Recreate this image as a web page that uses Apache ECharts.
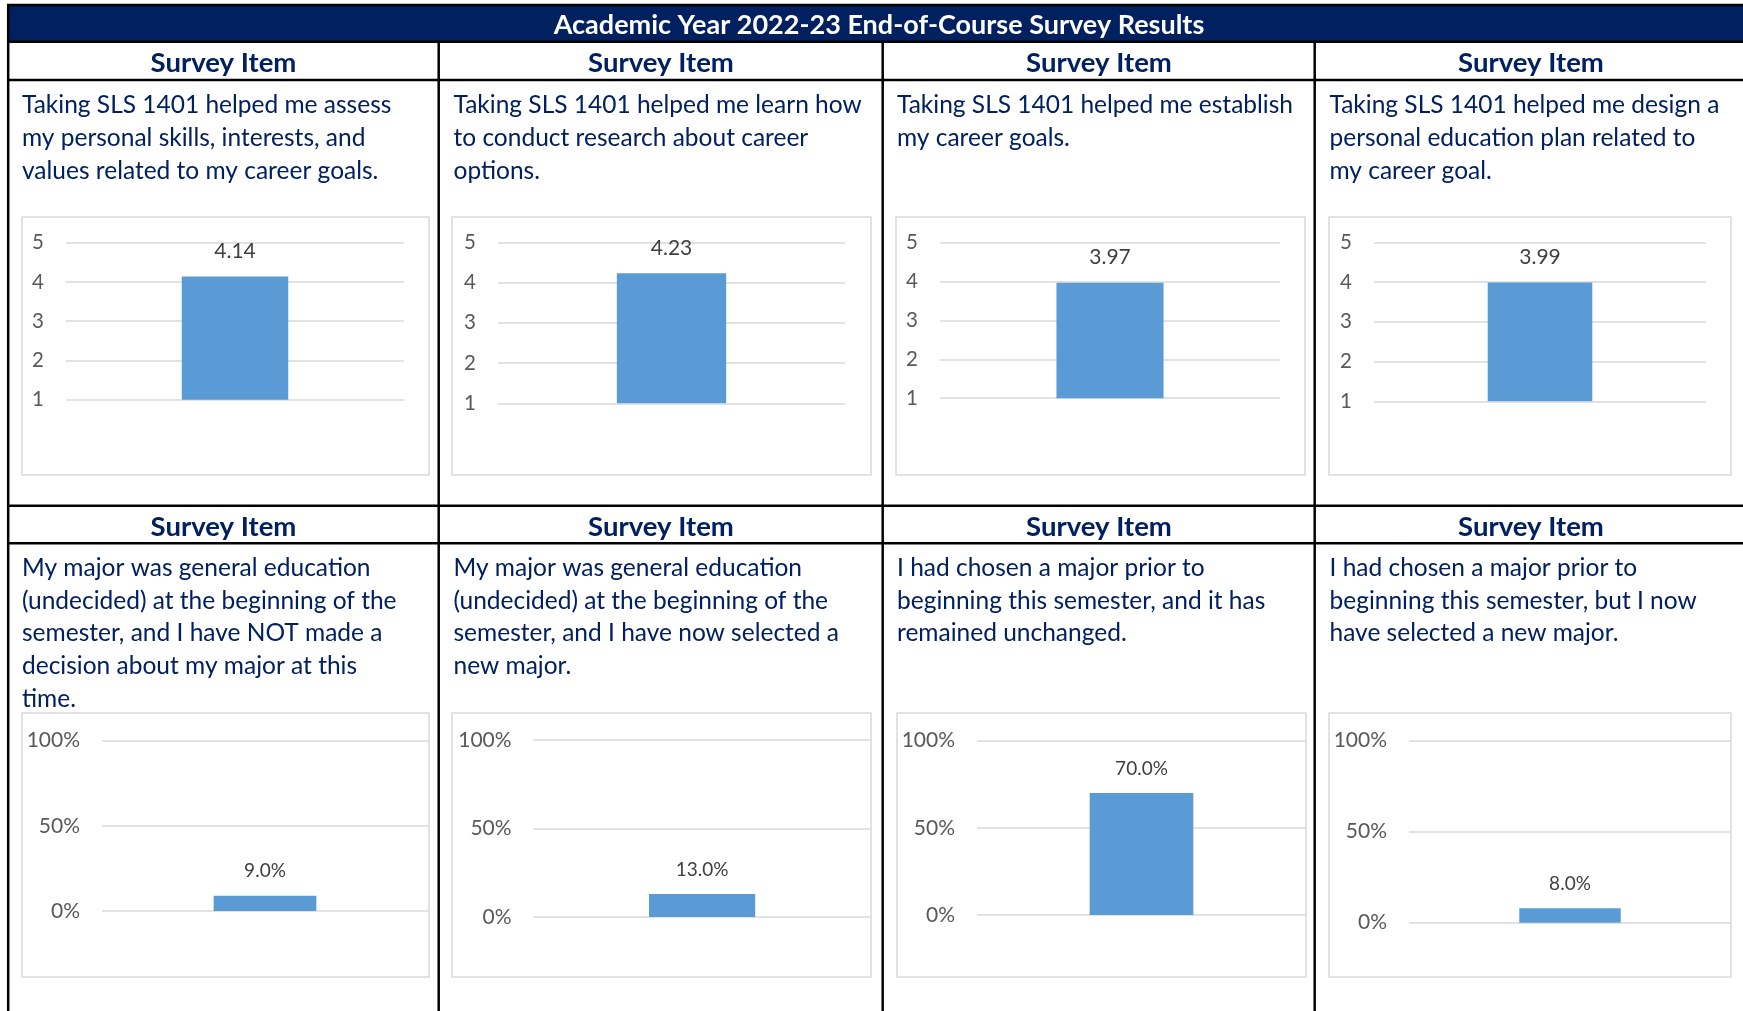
<!DOCTYPE html>
<html>
<head>
<meta charset="utf-8">
<title>Academic Year 2022-23 End-of-Course Survey Results</title>
<script src="https://cdn.jsdelivr.net/npm/echarts@6/dist/echarts.min.js"></script>
<style>
html, body { margin: 0; padding: 0; background: #fff; }
#container { width: 1743px; height: 1011px; }
</style>
</head>
<body>
<div id="container"></div>
<script>
// ---- data ----
var reportTitle = 'Academic Year 2022-23 End-of-Course Survey Results';
var headerLabel = 'Survey Item';
var categories = ['Mean'];

var scoreItems = [
	'Taking SLS 1401 helped me assess\nmy personal skills, interests, and\nvalues related to my career goals.',
	'Taking SLS 1401 helped me learn how\nto conduct research about career\noptions.',
	'Taking SLS 1401 helped me establish\nmy career goals.',
	'Taking SLS 1401 helped me design a\npersonal education plan related to\nmy career goal.'
];
var scoreValues = [4.14, 4.23, 3.97, 3.99];
var scoreTicks = [1, 2, 3, 4, 5];

var majorItems = [
	'My major was general education\n(undecided) at the beginning of the\nsemester, and I have NOT made a\ndecision about my major at this\ntime.',
	'My major was general education\n(undecided) at the beginning of the\nsemester, and I have now selected a\nnew major.',
	'I had chosen a major prior to\nbeginning this semester, and it has\nremained unchanged.',
	'I had chosen a major prior to\nbeginning this semester, but I now\nhave selected a new major.'
];
var majorShares = [9.0, 13.0, 70.0, 8.0]; // percent
var percentTicks = [0, 50, 100];

// ---- layout (page pixels) ----
var FONT = 'Lato, "Open Sans", sans-serif';
var NAVY = '#002060';
var colLines = [438.7, 882.7, 1314.7];
var colCenters = [223.5, 661, 1099, 1531];
var textLeft = [22, 453.5, 897, 1329.5];
var boxes1 = [[22, 217, 407, 258], [452, 217, 419, 258], [896, 217, 409, 258], [1329, 217, 402, 258]];
var boxes2 = [[22, 713, 407, 264], [452, 713, 419, 264], [897, 713, 409, 264], [1329, 713, 402, 264]];
var grids1 = [[66, 242.7, 338, 157], [498, 242.3, 347, 161], [940, 242.7, 340, 155.5], [1374, 242.3, 332, 159]];
var grids2 = [[102, 740.7, 326, 170.3], [533.6, 740, 337, 177], [977, 740.7, 329, 174.3], [1409, 740.7, 322, 182]];

var myChart = echarts.init(document.getElementById('container'));

function textEl(x, y, str, size, weight, color, align, lh) {
	return {
		type: 'text', silent: true, z: 10,
		style: {
			x: x, y: y, text: str,
			fontSize: size, fontWeight: weight, fontFamily: FONT,
			fill: color,
			align: align, textAlign: align,
			verticalAlign: 'top', textVerticalAlign: 'top',
			lineHeight: lh
		}
	};
}
function lineEl(x1, y1, x2, y2, w) {
	return {
		type: 'line', silent: true, z: 20,
		shape: {x1: x1, y1: y1, x2: x2, y2: y2},
		style: {stroke: '#000', lineWidth: w}
	};
}

var graphic = [];
// title band
graphic.push({type: 'rect', silent: true, z: 5, shape: {x: 8, y: 5, width: 1740, height: 36.5}, style: {fill: NAVY}});
graphic.push(textEl(879, 9, reportTitle, 27, 'bold', '#fff', 'center', 32));
// table rules
graphic.push(lineEl(7, 5, 1743, 5, 2.5));
graphic.push(lineEl(7, 41.7, 1743, 41.7, 2.5));
graphic.push(lineEl(7, 80, 1743, 80, 2.5));
graphic.push(lineEl(7, 505.7, 1743, 505.7, 2.5));
graphic.push(lineEl(7, 543.3, 1743, 543.3, 2.5));
graphic.push(lineEl(8.2, 4, 8.2, 1011, 2.5));
for (var c = 0; c < colLines.length; ++c)
	graphic.push(lineEl(colLines[c], 41.7, colLines[c], 1011, 2.5));

for (var i = 0; i < 4; ++i) {
	graphic.push(textEl(colCenters[i], 47, headerLabel, 27.5, 'bold', NAVY, 'center', 32));
	graphic.push(textEl(colCenters[i], 511, headerLabel, 27.5, 'bold', NAVY, 'center', 32));
	graphic.push(textEl(textLeft[i], 88, scoreItems[i], 24.5, 'normal', NAVY, 'left', 33.3));
	graphic.push(textEl(textLeft[i], 551.5, majorItems[i], 24.5, 'normal', NAVY, 'left', 32.8));
	var b = boxes1[i];
	graphic.push({type: 'rect', silent: true, z: 1, shape: {x: b[0], y: b[1], width: b[2], height: b[3]},
		style: {fill: 'none', stroke: '#D9D9D9', lineWidth: 1.5}});
	b = boxes2[i];
	graphic.push({type: 'rect', silent: true, z: 1, shape: {x: b[0], y: b[1], width: b[2], height: b[3]},
		style: {fill: 'none', stroke: '#D9D9D9', lineWidth: 1.5}});
}

var grid = [], xAxis = [], yAxis = [], series = [];
function addPanel(g, ticks, value, fmtAxis, fmtLabel, axisSize, labelSize) {
	var idx = grid.length;
	grid.push({left: g[0], top: g[1], width: g[2], height: g[3], containLabel: false});
	xAxis.push({
		type: 'category', gridIndex: idx, data: categories,
		axisLine: {show: false}, axisTick: {show: false}, axisLabel: {show: false}
	});
	yAxis.push({
		type: 'value', gridIndex: idx,
		min: ticks[0], max: ticks[ticks.length - 1], interval: ticks[1] - ticks[0],
		axisLine: {show: false}, axisTick: {show: false},
		axisLabel: {color: '#595959', fontSize: axisSize, fontFamily: FONT, margin: 22, formatter: fmtAxis},
		splitLine: {lineStyle: {color: '#D9D9D9', width: 1.5}}
	});
	series.push({
		type: 'bar', xAxisIndex: idx, yAxisIndex: idx, clip: true,
		data: [value], barWidth: '31.5%',
		itemStyle: {color: '#5B9BD5'},
		label: {show: true, position: 'top', distance: 15, color: '#404040',
			fontSize: labelSize, fontFamily: FONT, formatter: fmtLabel}
	});
}

for (var k = 0; k < 4; ++k)
	addPanel(grids1[k], scoreTicks, scoreValues[k], '{value}',
		function(p) { return p.value.toFixed(2); }, 20.5, 21);
for (var k = 0; k < 4; ++k)
	addPanel(grids2[k], percentTicks, majorShares[k], '{value}%',
		function(p) { return p.value.toFixed(1) + '%'; }, 21, 19);

var option = {
	animation: false,
	backgroundColor: '#fff',
	grid: grid,
	xAxis: xAxis,
	yAxis: yAxis,
	series: series,
	graphic: graphic
};
myChart.setOption(option);
</script>
</body>
</html>
